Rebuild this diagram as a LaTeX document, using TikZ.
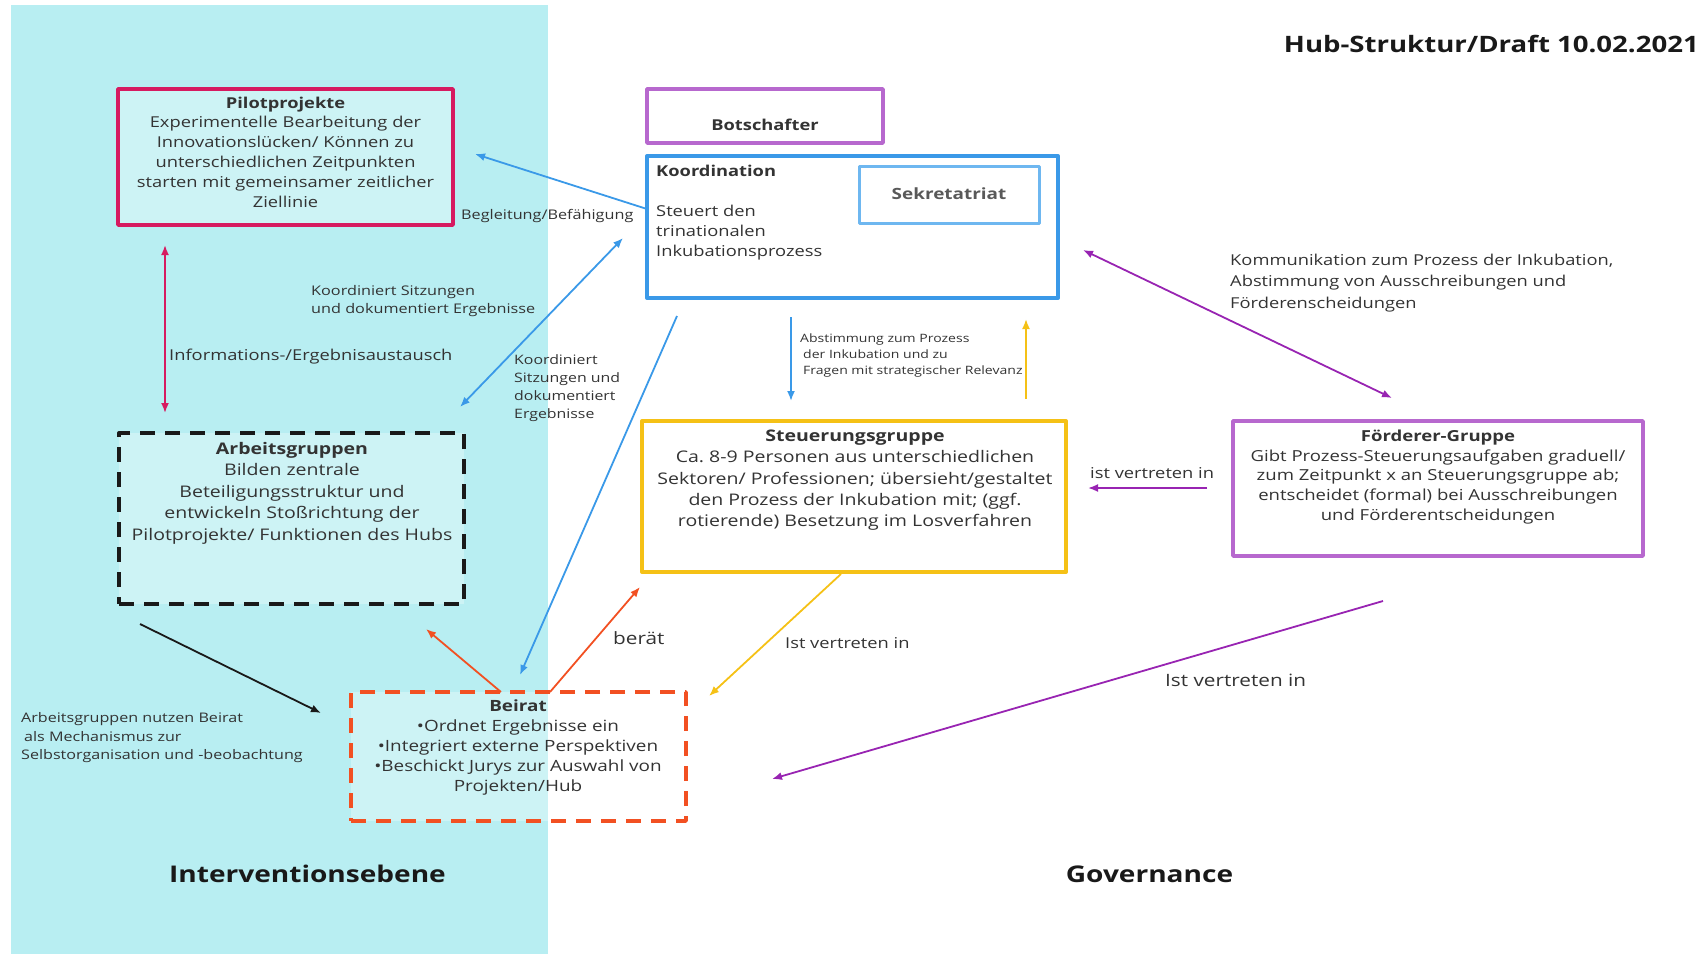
\documentclass[tikz,border=0pt]{standalone}
\usepackage{fontspec}
\setmainfont{Open Sans}[FakeStretch=1.22]
\usetikzlibrary{arrows.meta}
\definecolor{panelcyan}{RGB}{184,238,242}
\definecolor{txtgray}{RGB}{51,51,51}
\definecolor{pilotred}{RGB}{214,26,96}
\definecolor{koordblue}{RGB}{58,153,232}
\definecolor{sekblue}{RGB}{110,183,240}
\definecolor{lilac}{RGB}{183,104,206}
\definecolor{purpleline}{RGB}{152,36,178}
\definecolor{sunyellow}{RGB}{245,193,22}
\definecolor{beiratred}{RGB}{242,80,34}
\newcommand{\fs}[2]{\fontsize{#1}{#2}\selectfont}
\frenchspacing

\begin{document}
\begin{tikzpicture}[x=1pt, y=-1pt, >={Latex[length=10pt,width=8pt]}, line join=round,
  box/.style={draw, line width=3.5pt, fill=white, fill opacity=0.3, text opacity=1, inner sep=0pt},
  boxtext/.style={anchor=north, align=center, text=txtgray, inner sep=0pt},
  lbl/.style={text=txtgray, inner sep=0pt, align=left},
  conn/.style={line width=1.8pt},
  boxdash/.style={dash pattern=on 15pt off 10pt}]
  \useasboundingbox (0,0) rectangle (1701,954);

  % Panel: Interventionsebene
  \fill[panelcyan] (11,5) rectangle (548,954);
  \node[font=\fs{22.6}{27}\bfseries, text=black!90, anchor=east, inner sep=0pt] (title) at (1699,44) {Hub-Struktur/Draft 10.02.2021};
  \node[font=\fs{23}{27}\bfseries, text=black!90, inner sep=0pt] (ebene) at (307.5,874) {Interventionsebene};
  \node[font=\fs{23}{27}\bfseries, text=black!90, inner sep=0pt] (gov) at (1149.5,874) {Governance};

  % Boxes
  \node[box, draw=pilotred, minimum width=335pt, minimum height=136pt] (pilot) at (285.5,157) {};
  \node[boxtext, font=\fs{15}{19.8}] (pilot-t) at (285.5,96.5) {\textbf{Pilotprojekte}\\Experimentelle Bearbeitung der\\Innovationslücken/ Können zu\\unterschiedlichen Zeitpunkten\\starten mit gemeinsamer zeitlicher\\Ziellinie};

  \node[box, draw=lilac, minimum width=236pt, minimum height=54pt] (botsch) at (765,116) {};
  \node[font=\fs{15}{20}\bfseries, text=txtgray, inner sep=0pt] (botsch-t) at (765,125) {Botschafter};

  \node[box, draw=koordblue, line width=4pt, minimum width=411pt, minimum height=142pt] (koord) at (852.5,227) {};
  \node[boxtext, anchor=north west, align=left, font=\fs{15}{20}] (koord-t) at (656,165) {\textbf{Koordination}\\[20pt]Steuert den\\trinationalen\\Inkubationsprozess};
  \node[box, draw=sekblue, line width=3pt, minimum width=180pt, minimum height=57pt] (sek) at (949,194.5) {};
  \node[font=\fs{15.5}{20}\bfseries, text=black!65, inner sep=0pt] (sek-t) at (949,194) {Sekretatriat};

  \node[box, draw=sunyellow, line width=4pt, minimum width=424pt, minimum height=151pt] (steuer) at (854,496.5) {};
  \node[boxtext, font=\fs{16}{21.2}] (steuer-t) at (855,430) {\textbf{Steuerungsgruppe}\\Ca. 8-9 Personen aus unterschiedlichen\\Sektoren/ Professionen; übersieht/gestaltet\\den Prozess der Inkubation mit; (ggf.\\rotierende) Besetzung im Losverfahren};

  \node[box, draw=lilac, minimum width=410pt, minimum height=135pt] (foerder) at (1438,488.5) {};
  \node[boxtext, font=\fs{15.2}{19.8}] (foerder-t) at (1438,429.5) {\textbf{Förderer-Gruppe}\\Gibt Prozess-Steuerungsaufgaben graduell/\\zum Zeitpunkt x an Steuerungsgruppe ab;\\entscheidet (formal) bei Ausschreibungen\\und Förderentscheidungen};

  \node[box, draw=black!90, line width=4pt, boxdash, minimum width=345pt, minimum height=171pt] (arbeit) at (291.5,518.5) {};
  \node[boxtext, font=\fs{16}{21.5}] (arbeit-t) at (292,442) {\textbf{Arbeitsgruppen}\\Bilden zentrale\\Beteiligungsstruktur und\\entwickeln Stoßrichtung der\\Pilotprojekte/ Funktionen des Hubs};

  \node[box, draw=beiratred, boxdash, minimum width=335pt, minimum height=129pt] (beirat) at (518.5,756.5) {};
  \node[boxtext, font=\fs{15.5}{19.8}] (beirat-t) at (518,700) {\textbf{Beirat}\\•Ordnet Ergebnisse ein\\•Integriert externe Perspektiven\\•Beschickt Jurys zur Auswahl von\\Projekten/Hub};

  % Connector ends
  \coordinate (koord-pilot) at (647,209);
  \coordinate (pilot-koord) at (475,154);
  \coordinate (koord-arbeit) at (623,238);
  \coordinate (arbeit-koord) at (460,407);
  \coordinate (pilot-arbeit) at (165,245);
  \coordinate (arbeit-pilot) at (165,413);
  \coordinate (koord-beirat) at (677,316);
  \coordinate (beirat-koord) at (520,675);
  \coordinate (koord-steuer) at (791,317);
  \coordinate (steuer-koord) at (791,401);
  \coordinate (steuer-up) at (1026,399);
  \coordinate (koord-up) at (1026,319);
  \coordinate (koord-foerder) at (1083,250);
  \coordinate (foerder-koord) at (1392,398);
  \coordinate (foerder-steuer) at (1207,488);
  \coordinate (steuer-foerder) at (1088,488);
  \coordinate (arbeit-beirat) at (140,624);
  \coordinate (beirat-arbeit) at (321,713);
  \coordinate (beirat-ag) at (501,692);
  \coordinate (ag-beirat) at (426,629);
  \coordinate (beirat-steuer) at (550,692);
  \coordinate (steuer-beirat) at (640,587);
  \coordinate (steuer-down) at (841,574);
  \coordinate (beirat-down) at (709,696);
  \coordinate (foerder-beirat) at (1383,601);
  \coordinate (beirat-foerder) at (772,779);

  % Connectors
  \draw[conn, koordblue, ->] (koord-pilot) -- (pilot-koord);
  \draw[conn, koordblue, <->] (koord-arbeit) -- (arbeit-koord);
  \draw[conn, pilotred, <->] (pilot-arbeit) -- (arbeit-pilot);
  \draw[conn, koordblue, ->] (koord-beirat) -- (beirat-koord);
  \draw[conn, koordblue, ->] (koord-steuer) -- (steuer-koord);
  \draw[conn, sunyellow, ->] (steuer-up) -- (koord-up);
  \draw[conn, purpleline, <->] (koord-foerder) -- (foerder-koord);
  \draw[conn, purpleline, ->] (foerder-steuer) -- (steuer-foerder);
  \draw[conn, black!90, ->] (arbeit-beirat) -- (beirat-arbeit);
  \draw[conn, beiratred, ->] (beirat-ag) -- (ag-beirat);
  \draw[conn, beiratred, ->] (beirat-steuer) -- (steuer-beirat);
  \draw[conn, sunyellow, ->] (steuer-down) -- (beirat-down);
  \draw[conn, purpleline, ->] (foerder-beirat) -- (beirat-foerder);

  % Connector labels
  \node[lbl, anchor=west, font=\fs{13.3}{18}] (begl) at (461,216) {Begleitung/Befähigung};
  \node[lbl, anchor=north west, font=\fs{13.3}{18}] (sitz-a) at (311,285.5) {Koordiniert Sitzungen\\und dokumentiert Ergebnisse};
  \node[lbl, anchor=north west, font=\fs{13}{18}] (sitz-b) at (514,354.5) {Koordiniert\\Sitzungen und\\dokumentiert\\Ergebnisse};
  \node[lbl, anchor=west, font=\fs{15}{20}] (info) at (169,357) {Informations-/Ergebnisaustausch};
  \node[lbl, anchor=north west, font=\fs{11.5}{15.8}] (abst) at (800,334) {Abstimmung zum Prozess\\\hspace*{3pt}der Inkubation und zu\\\hspace*{3pt}Fragen mit strategischer Relevanz};
  \node[lbl, anchor=north west, font=\fs{15}{21.5}] (komm) at (1230,253.5) {Kommunikation zum Prozess der Inkubation,\\Abstimmung von Ausschreibungen und\\Förderenscheidungen};
  \node[lbl, anchor=west, font=\fs{15}{20}] (vert-a) at (1090,473) {ist vertreten in};
  \node[lbl, anchor=west, font=\fs{15}{20}] (vert-b) at (785,643) {Ist vertreten in};
  \node[lbl, anchor=west, font=\fs{17}{20}] (vert-c) at (1165,680) {Ist vertreten in};
  \node[lbl, anchor=west, font=\fs{17}{20}] (beraet) at (613,638) {berät};
  \node[lbl, anchor=north west, font=\fs{13.2}{18.5}] (nutzen) at (21,712.5) {Arbeitsgruppen nutzen Beirat\\\hspace*{3pt}als Mechanismus zur\\Selbstorganisation und -beobachtung};
\end{tikzpicture}
\end{document}
